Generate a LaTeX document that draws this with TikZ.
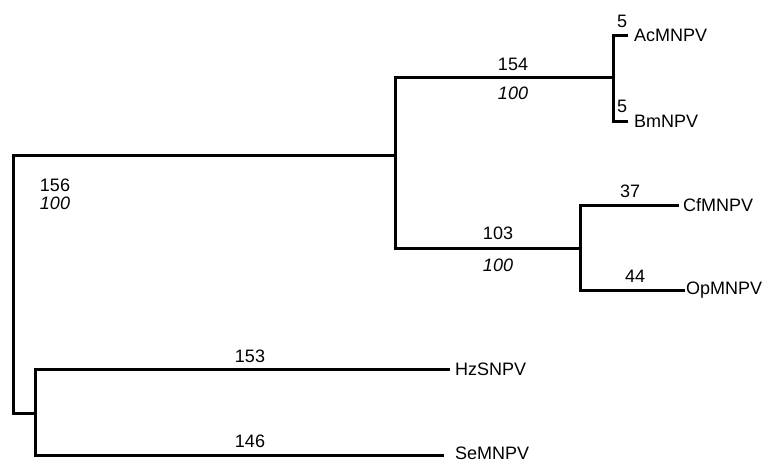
\documentclass[tikz,border=0pt]{standalone}
\usepackage{fontspec}
\setmainfont{Liberation Sans}
\usetikzlibrary{positioning}

\begin{document}
\begin{tikzpicture}[
x=1pt,y=-1pt,
font=\fontsize{18}{20}\selectfont,
branch/.style={draw=black,line width=3pt,line cap=rect},
taxon/.style={inner sep=0pt},
len/.style={inner sep=0pt},
boot/.style={inner sep=0pt,font=\fontsize{18}{20}\selectfont\itshape}
]
\useasboundingbox (0,0) rectangle (767,463);

% Internal nodes
\coordinate (rootT) at (13,155);
\coordinate (rootB) at (13,413);
\coordinate (nAB) at (395,155);
\coordinate (nAc) at (613,77);
\coordinate (nCf) at (580,248);
\coordinate (nHz) at (35,413);

% Tips
\coordinate (ac) at (626,35);
\coordinate (bm) at (626,121);
\coordinate (cf) at (677,205);
\coordinate (op) at (683,290);
\coordinate (hz) at (448,369);
\coordinate (se) at (442,455);

% Draw branches
\draw [branch] (rootB) -- (rootT) -- (nAB);
\draw [branch] (nAc) -| (nAB) |- (nCf);
\draw [branch] (ac) -| (nAc) |- (bm);
\draw [branch] (cf) -| (nCf) |- (op);
\draw [branch] (rootB) -- (nHz);
\draw [branch] (hz) -| (nHz) |- (se);

% Taxon names
\foreach \t/\gap/\name in {ac/8/AcMNPV,bm/8/BmNPV,cf/6/CfMNPV,op/3/OpMNPV,hz/7/HzSNPV}{
  \node [taxon,right=\gap pt of \t] (\t lab) {\name};
}
\node [taxon,right=13pt of se,yshift=2pt] (selab) {SeMNPV};

% Branch lengths
\node [len] (l156) at (55,185) {156};
\node [len] (l154) at (513,64) {154};
\node [len] (l103) at (498,233) {103};
\node [len] (l5a) at (622,21) {5};
\node [len] (l5b) at (622,106) {5};
\node [len] (l37) at (630,191) {37};
\node [len] (l44) at (635,276) {44};
\node [len] (l153) at (250,356) {153};
\node [len] (l146) at (250,441) {146};

% Bootstrap values
\node [boot] (b156) at (55,203) {100};
\node [boot] (b154) at (513,93) {100};
\node [boot] (b103) at (498,265) {100};

\end{tikzpicture}
\end{document}
